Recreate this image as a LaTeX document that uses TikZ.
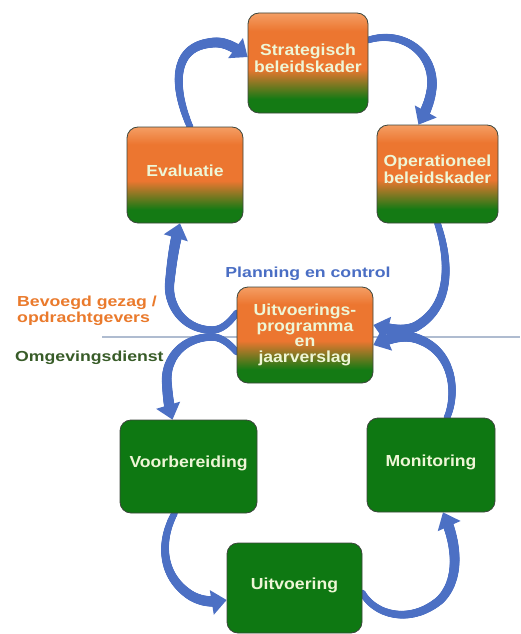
\documentclass[tikz,border=0pt]{standalone}
\usepackage{fontspec}
\setmainfont{Liberation Sans}
\newfontfamily\boxff{Liberation Sans}[FakeStretch=1.1]
\newfontfamily\lblff{Liberation Sans}[FakeStretch=1.22]
\usetikzlibrary{decorations.markings}
\definecolor{arrowblue}{RGB}{76,112,196}
\definecolor{boxgreen}{RGB}{14,120,18}
\definecolor{gradgreen}{RGB}{20,122,20}
\definecolor{gradorange}{RGB}{236,118,48}
\definecolor{gradlight}{RGB}{244,158,100}
\definecolor{boxedge}{RGB}{60,70,60}
\definecolor{boxtext}{RGB}{238,246,214}
\definecolor{lblblue}{RGB}{74,110,196}
\definecolor{lblorange}{RGB}{234,122,44}
\definecolor{lblgreen}{RGB}{56,92,40}
\definecolor{dividercol}{RGB}{175,188,208}
\pgfdeclareverticalshading{orgr}{100bp}{color(0bp)=(gradgreen); color(32bp)=(gradgreen); color(47bp)=(gradorange); color(66bp)=(gradorange); color(75bp)=(gradlight); color(100bp)=(gradlight)}
\pgfdeclarelayer{background}
\pgfsetlayers{background,main}
\tikzset{
  box/.style={draw=boxedge, line width=0.8pt, rounded corners=11pt, inner sep=2pt,
    align=center, text=boxtext, text depth=9pt, font=\boxff\bfseries\fontsize{16}{17}\selectfont},
  ogbox/.style={box, shade, shading=orgr},
  gbox/.style={box, fill=boxgreen},
  lbl/.style={font=\lblff\bfseries\fontsize{14.5}{16}\selectfont, inner sep=0pt},
  flowbody/.style={decorate, decoration={markings,
     mark=between positions 0 and -12pt step 0.7pt with {%
        \pgfmathsetmacro\flowr{3.3+2.2*(\pgfkeysvalueof{/pgf/decoration/mark info/distance from start})/(\pgfdecoratedpathlength)}%
        \fill[arrowblue] (0,0) circle[radius=\flowr pt];}}},
  flowhead/.style={decorate, decoration={markings,
     mark=at position -1.5pt with {\fill[arrowblue] (1.5pt,0pt) -- (-13.5pt,12.5pt) -- (-13.5pt,-12.5pt) -- cycle;}}},
  flow/.style={postaction={flowbody}, postaction={flowhead}},
}
\begin{document}
\begin{tikzpicture}[x=1pt,y=1pt]
\useasboundingbox (0,0) rectangle (520,-634);

% boxes
\node[ogbox, minimum width=120pt, minimum height=100pt] (strat) at (308,-63) {Strategisch\\beleidskader};
\node[ogbox, minimum width=116pt, minimum height=96pt] (eval) at (185,-175) {Evaluatie};
\node[ogbox, minimum width=121pt, minimum height=98pt] (oper) at (437.5,-174) {Operationeel\\beleidskader};
\node[ogbox, minimum width=136pt, minimum height=96pt, text depth=4pt, font=\boxff\bfseries\fontsize{16}{15.5}\selectfont] (uitp) at (305,-335) {Uitvoerings-\\programma\\en\\jaarverslag};
\node[gbox, minimum width=137pt, minimum height=93pt] (voor) at (188.5,-466.5) {Voorbereiding};
\node[gbox, minimum width=128pt, minimum height=94pt] (moni) at (431,-465) {Monitoring};
\node[gbox, minimum width=135pt, minimum height=90pt] (uitv) at (294.5,-588) {Uitvoering};

% labels
\node[lbl, text=lblblue, anchor=base] (pc) at (308,-277) {Planning en control};
\node[lbl, text=lblorange, anchor=base west] (bg1) at (17,-306) {Bevoegd gezag /};
\node[lbl, text=lblorange, anchor=base west] (bg2) at (17,-322) {opdrachtgevers};
\node[lbl, text=lblgreen, anchor=base west] (od) at (15,-361) {Omgevingsdienst};
\coordinate (divl) at (102,-337);
\coordinate (divr) at (520,-337);

\begin{pgfonlayer}{background}
\fill[white] (0,0) rectangle (520,-634);
\draw[dividercol, line width=1.2pt] (divl) -- (divr);
% upper cycle
\path[flow] ([xshift=5pt]eval.north) .. controls (176,-95) and (168,-48) .. (210,-43)
   .. controls (226,-40) and (238,-50) .. ([yshift=6pt]strat.west);
\path[flow] ([yshift=23pt]strat.east) .. controls (400,-30) and (433,-50) .. (432,-85)
   .. controls (431,-100) and (425,-113) .. ([xshift=-19pt]oper.north);
\path[flow] (oper.south) .. controls (448,-255) and (455,-305) .. (415,-327)
   .. controls (400,-333) and (385,-328) .. ([yshift=10pt]uitp.east);
\path[flow] ([yshift=22pt]uitp.west) .. controls (228,-325) and (220,-330) .. (212,-330)
   .. controls (184,-330) and (166,-305) .. (170,-280)
   .. controls (172,-260) and (175,-240) .. ([xshift=-5pt]eval.south);
% lower cycle
\path[flow] ([yshift=-17pt]uitp.west) .. controls (228,-342) and (220,-337) .. (212,-337)
   .. controls (182,-337) and (164,-360) .. (167,-385)
   .. controls (168,-400) and (170,-412) .. ([xshift=-16pt]voor.north);
\path[flow] ([xshift=-14pt]voor.south) .. controls (160,-540) and (160,-575) .. (190,-595)
   .. controls (203,-603) and (215,-602) .. ([yshift=-12pt]uitv.west);
\path[flow] ([yshift=-5pt]uitv.east) .. controls (375,-615) and (410,-625) .. (440,-600)
   .. controls (460,-580) and (458,-545) .. ([xshift=12pt]moni.south);
\path[flow] ([xshift=16pt]moni.north) .. controls (457,-395) and (455,-350) .. (415,-338)
   .. controls (400,-334) and (385,-340) .. ([yshift=-10pt]uitp.east);
\end{pgfonlayer}
\end{tikzpicture}
\end{document}
